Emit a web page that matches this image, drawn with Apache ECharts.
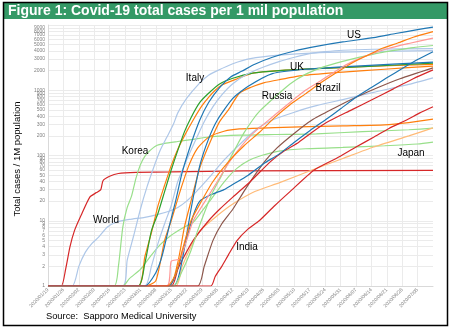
<!DOCTYPE html>
<html><head><meta charset="utf-8">
<script src="https://cdn.jsdelivr.net/npm/echarts@6/dist/echarts.min.js"></script>
<style>html,body{margin:0;padding:0;background:#fff}#c{width:452px;height:329px}</style>
</head><body><div id="c"></div>
<script>
const titleText = 'Figure 1: Covid-19 total cases per 1 mil population';
const yAxisTitle = 'Total cases / 1M population';
const sourceText = 'Source:  Sapporo Medical University';
const yTicks = [1,2,3,4,5,6,7,8,9,10,20,30,40,50,60,70,80,90,100,200,300,400,500,600,700,800,900,1000,2000,3000,4000,5000,6000,7000,8000,9000,10000];
const xTicks = ['1/19','1/26','2/2','2/9','2/16','2/23','3/1','3/8','3/15','3/22','3/29','4/5','4/12','4/19','4/26','5/3','5/10','5/17','5/24','5/31','6/7','6/14','6/21','6/28','7/5'];

const china = [['1/19',1],['1/25',1],['1/27',1.8],['1/29',4],['1/31',7],['2/3',12],['2/7',23],['2/10',27],['2/12',30],['2/13',41],['2/16',48],['2/20',53],['2/28',55],['3/15',56],['4/17',58],['7/12',59]];
const world = [['1/19',1],['1/30',1],['2/2',2],['2/5',3.3],['2/8',4.5],['2/11',5.6],['2/15',8],['2/19',9.5],['2/25',10.5],['3/3',11.3],['3/9',12.5],['3/14',14],['3/18',16],['3/22',20],['3/26',27],['4/1',45],['4/8',85],['4/17',170],['4/24',270],['4/30',350],['5/10',460],['5/20',580],['6/1',720],['6/15',930],['7/1',1230],['7/12',1550]];
const korea = [['1/19',1],['2/18',1],['2/20',2],['2/22',8],['2/24',16],['2/26',24],['2/28',45],['3/1',72],['3/3',97],['3/5',116],['3/8',140],['3/12',153],['3/18',164],['3/25',177],['4/1',192],['4/15',205],['5/1',210],['5/20',215],['6/10',232],['7/1',248],['7/12',262]];
const italy = [['1/19',1],['2/22',1],['2/24',2.5],['2/27',6],['3/1',15],['3/4',33],['3/7',65],['3/10',120],['3/13',190],['3/16',300],['3/18',450],['3/22',750],['3/28',1300],['4/1',1700],['4/5',2000],['4/12',2550],['4/20',3050],['5/3',3450],['5/20',3750],['6/10',3900],['7/12',4050]];
const japan = [['1/19',1],['2/22',1],['2/25',1.3],['3/1',1.8],['3/5',2.7],['3/10',4.3],['3/15',6],['3/20',7.7],['3/25',9.5],['3/29',14],['4/2',21],['4/6',32],['4/10',47],['4/14',64],['4/19',83],['4/25',100],['5/3',117],['5/15',127],['6/1',133],['6/20',141],['7/5',150],['7/12',160]];
const us = [['1/19',1],['3/3',1],['3/8',1.6],['3/11',3],['3/14',8],['3/17',20],['3/20',55],['3/24',150],['3/28',350],['4/1',650],['4/6',1100],['4/11',1600],['4/16',1950],['4/22',2500],['4/30',3200],['5/10',4000],['5/20',4700],['6/1',5500],['6/15',6400],['6/25',7400],['7/5',8500],['7/12',9300]];
const brazil = [['1/19',1],['3/13',1],['3/17',1.5],['3/20',3.5],['3/24',10],['3/28',18],['4/3',40],['4/10',80],['4/17',140],['4/24',225],['5/1',380],['5/8',600],['5/15',880],['5/22',1300],['5/29',1850],['6/5',2600],['6/12',3400],['6/19',4400],['6/26',5300],['7/3',6500],['7/12',7900]];
const russia = [['1/19',1],['3/16',1],['3/20',1.7],['3/24',3.5],['3/27',7],['3/31',16],['4/3',28],['4/7',50],['4/10',80],['4/14',145],['4/17',220],['4/21',350],['4/24',470],['5/1',780],['5/8',1250],['5/15',1750],['5/22',2200],['5/29',2600],['6/5',3000],['6/12',3400],['6/19',3800],['6/26',4150],['7/3',4500],['7/12',4850]];
const pink = [['1/19',1],['3/13',1],['3/15',2.4],['3/19',2.6],['3/22',5],['3/25',10],['3/30',19],['4/5',40],['4/11',85],['4/20',200],['4/30',390],['5/8',650],['5/15',1000],['5/22',1400],['6/1',2300],['6/8',3000],['6/15',3700],['6/22',4400],['7/1',5200],['7/12',6300]];
const uk = [['1/19',1],['3/3',1],['3/6',2],['3/9',4.5],['3/12',9],['3/15',17],['3/18',40],['3/22',85],['3/26',170],['3/30',330],['4/3',560],['4/7',850],['4/12',1260],['4/19',1800],['4/26',2270],['5/3',2750],['5/10',3200],['5/17',3650],['5/24',3900],['6/1',4100],['6/15',4250],['7/12',4350]];
const southAfrica = [['1/19',1],['3/14',1],['3/17',1.5],['3/21',4],['3/25',12],['3/28',20],['4/2',25],['4/8',30],['4/12',36],['4/19',50],['4/26',75],['5/3',105],['5/10',160],['5/17',240],['5/24',350],['5/31',520],['6/7',780],['6/14',1100],['6/21',1550],['6/28',2150],['7/5',2950],['7/12',3900]];
const blueH = [['1/19',1],['3/16',1],['3/20',2.5],['3/24',15],['3/28',70],['4/1',180],['4/5',350],['4/12',750],['4/19',1150],['4/30',1800],['5/15',2100],['6/7',2350],['7/12',2700]];
const germany = [['1/19',1],['2/29',1],['3/3',2.2],['3/6',7],['3/9',13],['3/12',28],['3/15',60],['3/18',120],['3/21',230],['3/24',380],['3/28',650],['4/1',900],['4/6',1250],['4/12',1530],['4/21',1830],['5/3',2000],['5/20',2150],['6/10',2300],['7/12',2600]];
const france = [['1/19',1],['2/29',1],['3/3',2.8],['3/6',6.5],['3/9',17],['3/12',35],['3/15',70],['3/18',125],['3/21',200],['3/25',350],['3/29',580],['4/1',780],['4/4',1000],['4/7',1200],['4/14',1500],['4/21',1830],['5/3',2000],['5/20',2150],['6/10',2300],['7/12',2500]];
const turkey = [['1/19',1],['3/14',1],['3/18',2.3],['3/21',8],['3/24',20],['3/28',65],['4/2',170],['4/6',330],['4/10',500],['4/15',900],['4/20',1100],['4/26',1300],['5/3',1450],['5/15',1700],['6/1',1900],['6/20',2100],['7/12',2350]];
const brown = [['1/19',1],['3/27',1],['3/30',2],['4/3',5],['4/7',9],['4/12',15],['4/17',28],['4/22',50],['4/27',85],['5/2',130],['5/10',220],['5/18',350],['5/28',530],['6/7',780],['6/17',1100],['6/27',1500],['7/12',2200]];
const red2 = [['1/19',1],['3/15',1],['3/18',1.8],['3/20',2.5],['3/25',5],['4/1',10],['4/6',15],['4/12',23],['4/20',40],['4/29',80],['5/5',115],['5/12',160],['5/19',240],['5/26',340],['6/5',500],['6/14',710],['6/24',1050],['7/3',1500],['7/12',2050]];
const australia = [['1/19',1],['3/3',1],['3/8',1.2],['3/12',5],['3/15',10],['3/19',28],['3/23',70],['3/27',130],['4/1',190],['4/8',235],['4/15',255],['5/1',268],['6/1',285],['6/20',295],['7/1',320],['7/12',360]];
const indonesia = [['1/19',1],['3/17',1],['3/20',2],['3/24',4],['3/28',7],['4/5',12],['4/12',18],['4/22',28],['5/3',38],['5/18',60],['6/1',90],['6/15',135],['7/1',200],['7/12',265]];
const india = [['1/19',1],['4/2',1],['4/4',1.4],['4/7',2],['4/10',3],['4/14',5],['4/19',7.5],['4/24',10],['5/1',17],['5/8',28],['5/19',60],['5/29',90],['6/7',135],['6/15',190],['6/22',260],['6/30',350],['7/6',450],['7/12',560]];

const seriesList = [
  {name:'China', data:china, color:'#d62728'},
  {name:'World', data:world, color:'#aec7e8'},
  {name:'Korea', data:korea, color:'#98df8a'},
  {name:'Italy', data:italy, color:'#aec7e8'},
  {name:'Japan', data:japan, color:'#98df8a'},
  {name:'Australia', data:australia, color:'#ff7f0e'},
  {name:'Indonesia', data:indonesia, color:'#ffbb78'},
  {name:'Brown', data:brown, color:'#8c564b'},
  {name:'Red2', data:red2, color:'#d62728'},
  {name:'Turkey', data:turkey, color:'#ff7f0e'},
  {name:'France', data:france, color:'#ff7f0e'},
  {name:'Germany', data:germany, color:'#2ca02c'},
  {name:'BlueH', data:blueH, color:'#1f77b4'},
  {name:'SouthAfrica', data:southAfrica, color:'#1f77b4'},
  {name:'UK', data:uk, color:'#aec7e8'},
  {name:'Russia', data:russia, color:'#98df8a'},
  {name:'Pink', data:pink, color:'#ff9896'},
  {name:'Brazil', data:brazil, color:'#ff7f0e'},
  {name:'US', data:us, color:'#1f77b4'},
  {name:'India', data:india, color:'#d62728'}
];
const labels = [
  {text:'US', x:354, y:35}, {text:'UK', x:297, y:67}, {text:'Italy', x:195, y:78},
  {text:'Russia', x:277, y:96}, {text:'Brazil', x:328, y:88}, {text:'Korea', x:135, y:151},
  {text:'World', x:106, y:220}, {text:'India', x:247, y:247}, {text:'Japan', x:411, y:153}
];

function toDate(s){ const p = s.split('/'); return Date.UTC(2020, +p[0]-1, +p[1]); }
const xTickTs = xTicks.map(toDate);
function fmt(v){ const d = new Date(v); const p = n => (n<10?'0':'')+n; return d.getUTCFullYear()+'/'+p(d.getUTCMonth()+1)+'/'+p(d.getUTCDate()); }

const chart = echarts.init(document.getElementById('c'), null, {renderer:'canvas'});
chart.setOption({
  animation:false,
  backgroundColor:'#ffffff',
  grid:{left:48, right:19, top:25, bottom:43, containLabel:false},
  xAxis:{type:'value', min:toDate('1/19'), max:toDate('7/12'),
    axisLine:{show:true, lineStyle:{color:'#d9d9d9', width:1}},
    axisTick:{show:false, customValues:xTickTs},
    axisLabel:{customValues:xTickTs, rotate:45, fontSize:5, color:'#808080', margin:3, formatter:fmt, fontFamily:'Liberation Sans'},
    splitLine:{show:true, lineStyle:{color:'#ebebeb', width:1}}},
  yAxis:{type:'log', logBase:10, min:1, max:10000,
    axisLine:{show:true, lineStyle:{color:'#d9d9d9', width:1}},
    axisTick:{show:false, customValues:yTicks},
    axisLabel:{customValues:yTicks, fontSize:5, color:'#808080', margin:3, fontFamily:'Liberation Sans', formatter:v => String(v)},
    splitLine:{show:true, lineStyle:{color:'#ebebeb', width:1}}},
  series: seriesList.map(s => ({
    name:s.name, type:'line', showSymbol:false, smooth:0.2,
    data:s.data.map(d => [toDate(d[0]), d[1]]),
    lineStyle:{color:s.color, width:1.2}, itemStyle:{color:s.color}
  })),
  graphic:[
    {type:'rect', shape:{x:3, y:2, width:445, height:17}, style:{fill:'#349966'}, z:10},
    {type:'text', x:8, y:11, style:{text:titleText, fill:'#ffffff', font:'bold 14px "Liberation Sans", Arial', verticalAlign:'middle'}, z:11},
    {type:'rect', shape:{x:3.5, y:2.5, width:444, height:323}, style:{fill:null, stroke:'#000000', lineWidth:1.5}, z:12},
    {type:'text', x:17, y:159, rotation:Math.PI/2, style:{text:yAxisTitle, fill:'#000', font:'9.5px "Liberation Sans", Arial', align:'center', verticalAlign:'middle'}, z:11},
    {type:'text', x:46, y:316, style:{text:sourceText, fill:'#000', font:'9.3px "Liberation Sans", Arial', verticalAlign:'middle'}, z:11}
  ].concat(labels.map(l => ({type:'text', x:l.x, y:l.y, style:{text:l.text, fill:'#000', font:'10px "Liberation Sans", Arial', align:'center', verticalAlign:'middle'}, z:11})))
});
</script></body></html>
